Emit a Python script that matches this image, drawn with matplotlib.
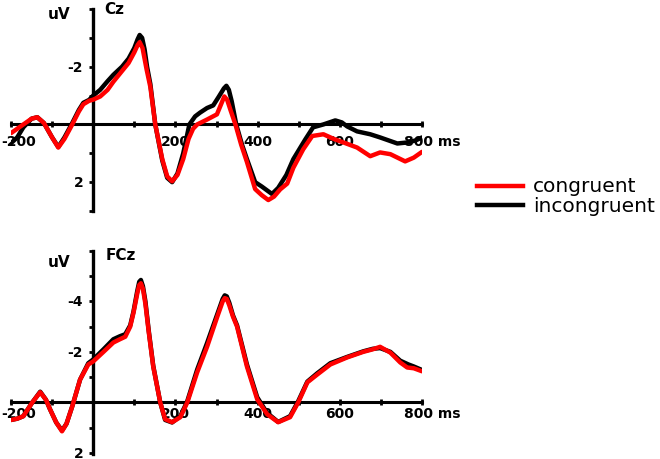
import matplotlib
matplotlib.use("Agg")
import matplotlib.pyplot as plt
from matplotlib.lines import Line2D

# ---------------------------------------------------------------------------
# Data (uV, negative plotted upwards)
# ---------------------------------------------------------------------------

CZ_CON_T = [-200, -185, -170, -150, -136, -120, -100, -85, -70, -51, -35, -24, -10, 0,
            17, 35, 49, 70, 86, 100, 108, 113, 120, 130, 139, 151, 168, 180, 192, 205, 219,
            232, 243, 253, 277, 301, 314, 319, 326, 334, 346, 360, 374, 394, 410, 426, 440, 455,
            472, 487, 511, 533, 560, 585, 608, 642, 674, 698, 723, 759, 780, 800]
CZ_CON_V = [0.3, 0.15, 0.0, -0.2, -0.25, -0.05, 0.45, 0.8, 0.5, 0.0, -0.45, -0.7, -0.82, -0.86,
            -0.97, -1.2, -1.48, -1.85, -2.13, -2.5, -2.75, -2.85, -2.65, -1.9, -1.3, 0.0, 1.2, 1.8, 1.97, 1.75, 1.2,
            0.5, 0.15, 0.0, -0.17, -0.35, -0.8, -0.97, -0.85, -0.5, 0.0, 0.7, 1.3, 2.24, 2.45, 2.62, 2.5, 2.25,
            2.05, 1.5, 0.86, 0.4, 0.34, 0.5, 0.62, 0.8, 1.1, 0.97, 1.03, 1.28, 1.15, 0.95]

CZ_INC_T = [-200, -185, -170, -150, -136, -120, -100, -85, -70, -51, -35, -24, -10, 0,
            17, 35, 49, 70, 86, 100, 108, 113, 119, 125, 131, 139, 151, 168, 180, 192, 205, 219,
            234, 248, 260, 277, 292, 305, 318, 324, 330, 337, 348, 362, 374, 394, 410, 435, 450,
            470, 487, 516, 535, 560, 589, 605, 618, 642, 674, 698, 740, 767, 785, 800]
CZ_INC_V = [0.65, 0.45, 0.1, -0.2, -0.25, -0.05, 0.45, 0.78, 0.45, -0.05, -0.5, -0.75, -0.85, -1.0,
            -1.2, -1.5, -1.72, -2.0, -2.28, -2.65, -2.95, -3.1, -3.0, -2.6, -2.0, -1.4, 0.0, 1.25, 1.85, 2.0, 1.7, 1.0,
            0.0, -0.28, -0.41, -0.57, -0.66, -0.95, -1.25, -1.34, -1.2, -0.8, 0.0, 0.7, 1.2, 2.0, 2.15, 2.41, 2.2,
            1.75, 1.2, 0.52, 0.1, 0.0, -0.14, -0.07, 0.07, 0.24, 0.34, 0.45, 0.66, 0.62, 0.55, 0.45]

FCZ_CON_T = [-200, -185, -170, -148, -129, -115, -105, -90, -76, -65, -51, -32, -12, 0,
             25, 49, 65, 78, 90, 98, 107, 112, 116, 121, 127, 135, 146, 163, 175, 192, 212, 229,
             253, 277, 302, 315, 320, 325, 331, 340, 350, 374, 399, 423, 450, 479, 499, 521, 545,
             577, 618, 657, 680, 698, 723, 747, 764, 780, 800]
FCZ_CON_V = [0.7, 0.65, 0.55, 0.0, -0.4, -0.1, 0.28, 0.8, 1.15, 0.85, 0.16, -0.9, -1.5, -1.62,
             -2.0, -2.37, -2.5, -2.6, -3.0, -3.55, -4.3, -4.65, -4.72, -4.5, -3.9, -2.8, -1.42, 0.0, 0.67, 0.79, 0.59, 0.0,
             -1.19, -2.2, -3.4, -4.0, -4.13, -4.1, -3.85, -3.4, -3.0, -1.42, -0.12, 0.47, 0.79, 0.59, 0.0, -0.79, -1.1,
             -1.5, -1.78, -2.0, -2.1, -2.2, -1.97, -1.58, -1.38, -1.35, -1.23]

FCZ_INC_T = [-200, -185, -170, -148, -129, -115, -105, -90, -76, -65, -51, -32, -12, 0,
             25, 49, 65, 78, 90, 98, 107, 112, 116, 121, 127, 135, 146, 163, 175, 192, 212, 229,
             253, 277, 302, 315, 320, 325, 331, 340, 350, 374, 399, 423, 450, 479, 499, 521, 545,
             577, 618, 657, 680, 698, 723, 747, 767, 780, 800]
FCZ_INC_V = [0.7, 0.65, 0.55, 0.0, -0.42, -0.1, 0.28, 0.8, 1.12, 0.85, 0.16, -0.9, -1.55, -1.7,
             -2.1, -2.5, -2.62, -2.7, -3.05, -3.6, -4.4, -4.78, -4.85, -4.6, -4.0, -2.85, -1.45, 0.0, 0.7, 0.8, 0.55, -0.05,
             -1.3, -2.35, -3.5, -4.1, -4.24, -4.2, -3.95, -3.45, -3.05, -1.5, -0.2, 0.42, 0.78, 0.55, -0.05, -0.82, -1.15,
             -1.55, -1.8, -2.02, -2.12, -2.15, -2.0, -1.65, -1.5, -1.42, -1.28]

PANELS = ["Cz", "FCz"]
CONDITIONS = ["congruent", "incongruent"]
COLORS = {"congruent": "#ff0000", "incongruent": "#000000"}

X_TICKS = list(range(-200, 801, 100))
X_LABELS = [200, 400, 600]
Y_LIMS = [(3.0, -4.0), (2.05, -6.0)]
Y_TICKS = [list(range(-4, 4)), list(range(-6, 3))]
Y_LABELS = [[-2, 2], [-4, -2, 2]]

# ---------------------------------------------------------------------------

fig = plt.figure(figsize=(6.6, 4.6), dpi=100)
ax_top = fig.add_axes([0.0167, 0.5391, 0.6227, 0.4391])
ax_bot = fig.add_axes([0.0167, 0.0109, 0.6227, 0.4413])

series = [
    ((CZ_CON_T, CZ_CON_V), (CZ_INC_T, CZ_INC_V)),
    ((FCZ_CON_T, FCZ_CON_V), (FCZ_INC_T, FCZ_INC_V)),
]
label_dy = [-10, -4]  # pixel offset of x tick labels below the axis

for i, ax in enumerate([ax_top, ax_bot]):
    con, inc = series[i]
    ax.plot(*inc, color=COLORS["incongruent"], linewidth=3.2, solid_capstyle="round",
            solid_joinstyle="round", zorder=3)
    ax.plot(*con, color=COLORS["congruent"], linewidth=3.2, solid_capstyle="round",
            solid_joinstyle="round", zorder=4)

    ax.set_xlim(-200, 800)
    ax.set_ylim(*Y_LIMS[i])
    for s in ["top", "right"]:
        ax.spines[s].set_visible(False)
    ax.spines["left"].set_position(("data", 0))
    ax.spines["bottom"].set_position(("data", 0))
    ax.spines["left"].set_linewidth(2.4)
    ax.spines["bottom"].set_linewidth(2.2)
    ax.spines["left"].set_zorder(2)
    ax.spines["bottom"].set_zorder(2)

    ax.set_xticks(X_TICKS)
    ax.set_yticks(Y_TICKS[i])
    ax.tick_params(axis="x", direction="inout", length=4, width=2, labelbottom=False)
    ax.tick_params(axis="y", direction="out", length=3, width=2, labelleft=False)
    ax.patch.set_visible(False)

    ax.annotate("-200", (-200, 0), xytext=(-10, label_dy[i]), textcoords="offset pixels",
                ha="left", va="top", fontsize=10, fontweight="bold", annotation_clip=False)
    for x in X_LABELS:
        ax.annotate(str(x), (x, 0), xytext=(0, label_dy[i]), textcoords="offset pixels",
                    ha="center", va="top", fontsize=10, fontweight="bold", annotation_clip=False)
    ax.annotate("800 ms", (756, 0), xytext=(0, label_dy[i]), textcoords="offset pixels",
                ha="left", va="top", fontsize=10, fontweight="bold", annotation_clip=False)
    for y in Y_LABELS[i]:
        ax.annotate(str(y), (0, y), xytext=(-10, 0), textcoords="offset pixels",
                    ha="right", va="center", fontsize=10, fontweight="bold", annotation_clip=False)

ax_top.text(-83, -3.86, "uV", ha="center", va="center", fontsize=11, fontweight="bold", clip_on=False)
ax_top.text(51, -4.03, "Cz", ha="center", va="center", fontsize=11, fontweight="bold", clip_on=False)
ax_bot.text(-83, -5.57, "uV", ha="center", va="center", fontsize=11, fontweight="bold", clip_on=False)
ax_bot.text(66, -5.85, "FCz", ha="center", va="center", fontsize=11, fontweight="bold", clip_on=False)

# legend, drawn by hand in figure pixels
W, H = 660, 460
for j, (cond, ypx) in enumerate(zip(CONDITIONS, [187, 206])):
    fig.add_artist(Line2D([477 / W, 523 / W], [1 - ypx / H, 1 - ypx / H],
                          color=COLORS[cond], linewidth=3.2))
    fig.text(533 / W, 1 - ypx / H, cond, ha="left", va="center", fontsize=14.5)

fig.savefig("out.png", dpi=100)
